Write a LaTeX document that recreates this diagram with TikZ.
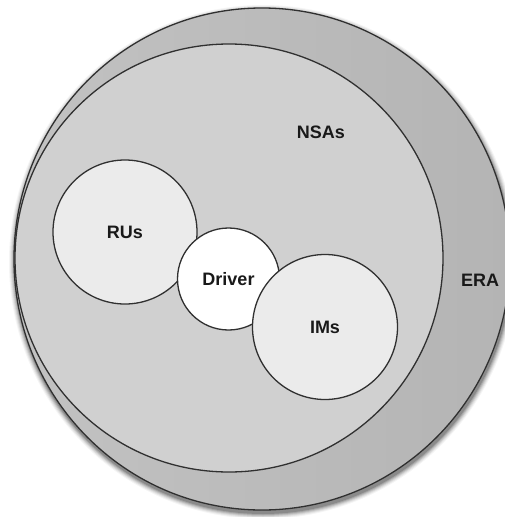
\documentclass[tikz,border=0pt]{standalone}
\usepackage{fontspec}
\setmainfont{Liberation Sans}
\definecolor{linec}{HTML}{303030}
\definecolor{ringc}{HTML}{C2C2C2}
\definecolor{ringd}{HTML}{B4B4B4}
\definecolor{nsac}{HTML}{D0D0D0}
\definecolor{subc}{HTML}{EBEBEB}
\tikzset{
  setc/.style={draw=linec, line width=1.3pt},
  lbl/.style={font=\bfseries\fontsize{18}{21}\selectfont, text=black!90, inner sep=0pt},
}
\begin{document}
\begin{tikzpicture}[x=1pt,y=-1pt]
\useasboundingbox (0,0) rectangle (505,517);
% shadow of outer set
\foreach \o/\a in {6/0.04,5/0.06,4/0.08,3/0.1,2/0.13,1/0.17}{
  \fill[black, opacity=\a] (263,262) ellipse [x radius=248+\o, y radius=251+\o];
}
% ERA
\shade[left color=ringc, right color=ringd] (262,259) ellipse [x radius=248, y radius=251];
\draw[setc] (262,259) ellipse [x radius=248, y radius=251];
\node[lbl] (era) at (480,280) {ERA};
% NSAs
\fill[nsac] (229,258) circle [radius=214];
\draw[setc] (229,258) circle [radius=214];
\node[lbl] (nsas) at (321,132) {NSAs};
% RUs
\node[setc, circle, fill=subc, minimum size=144pt, inner sep=0pt] (rus) at (125,232) {};
\node[lbl] at (rus.center) {RUs};
% Driver
\node[setc, circle, fill=white, minimum size=102pt, inner sep=0pt] (driver) at (228.5,279) {};
\node[lbl] at (driver.center) {Driver};
% IMs
\node[setc, circle, fill=subc, minimum size=145pt, inner sep=0pt] (ims) at (325,327) {};
\node[lbl] at (ims.center) {IMs};
\end{tikzpicture}
\end{document}
